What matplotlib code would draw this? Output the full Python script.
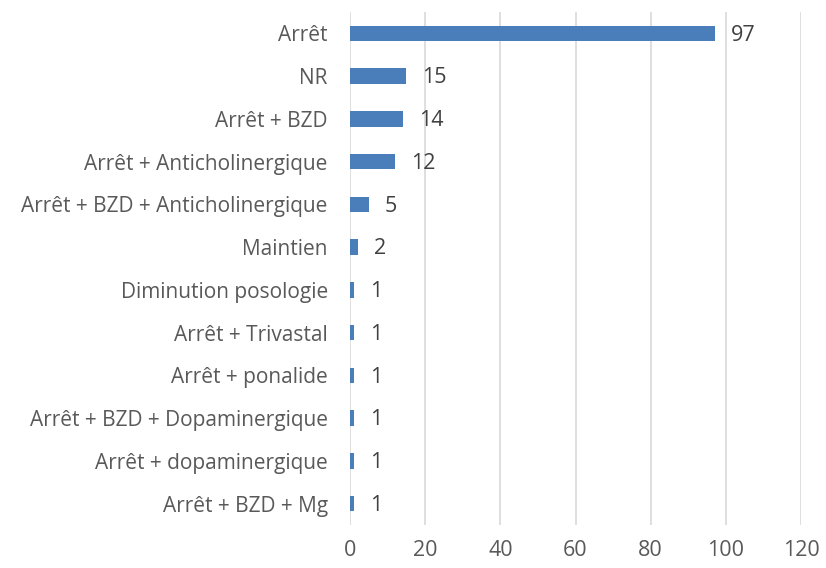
import matplotlib.pyplot as plt

categories = ['Arrêt', 'NR', 'Arrêt + BZD', 'Arrêt + Anticholinergique',
              'Arrêt + BZD + Anticholinergique', 'Maintien', 'Diminution posologie',
              'Arrêt + Trivastal', 'Arrêt + ponalide', 'Arrêt + BZD + Dopaminergique',
              'Arrêt + dopaminergique', 'Arrêt + BZD + Mg']
values = [97, 15, 14, 12, 5, 2, 1, 1, 1, 1, 1, 1]
xticks = [0, 20, 40, 60, 80, 100, 120]

plt.rcParams['font.family'] = ['Open Sans', 'DejaVu Sans']
text_color = '#595959'

fig = plt.figure(figsize=(8.26, 5.68), dpi=100)
ax = fig.add_axes([350 / 826, 1 - 525 / 568, 451 / 826, 513 / 568])

pos = list(range(len(categories)))
ax.barh(pos, values, height=0.36, color='#4a7ebb', zorder=3)
for p, v in zip(pos, values):
    ax.text(v + 4.3, p + 0.04, str(v), va='center', ha='left', fontsize=15.5, color='#404040')

ax.set_xlim(0, 120)
ax.set_ylim(len(categories) - 0.5, -0.5)
ax.set_yticks(pos)
ax.set_yticklabels(categories, fontsize=15, color=text_color)
ax.set_xticks(xticks)
ax.set_xticklabels([str(t) for t in xticks], fontsize=15.5, color=text_color)
ax.tick_params(axis='both', length=0)
ax.tick_params(axis='y', pad=16)
ax.tick_params(axis='x', pad=11)
ax.grid(axis='x', color='#d9d9d9', linewidth=1.2, zorder=0)
for s in ax.spines.values():
    s.set_visible(False)

fig.savefig('out.png', dpi=100)
